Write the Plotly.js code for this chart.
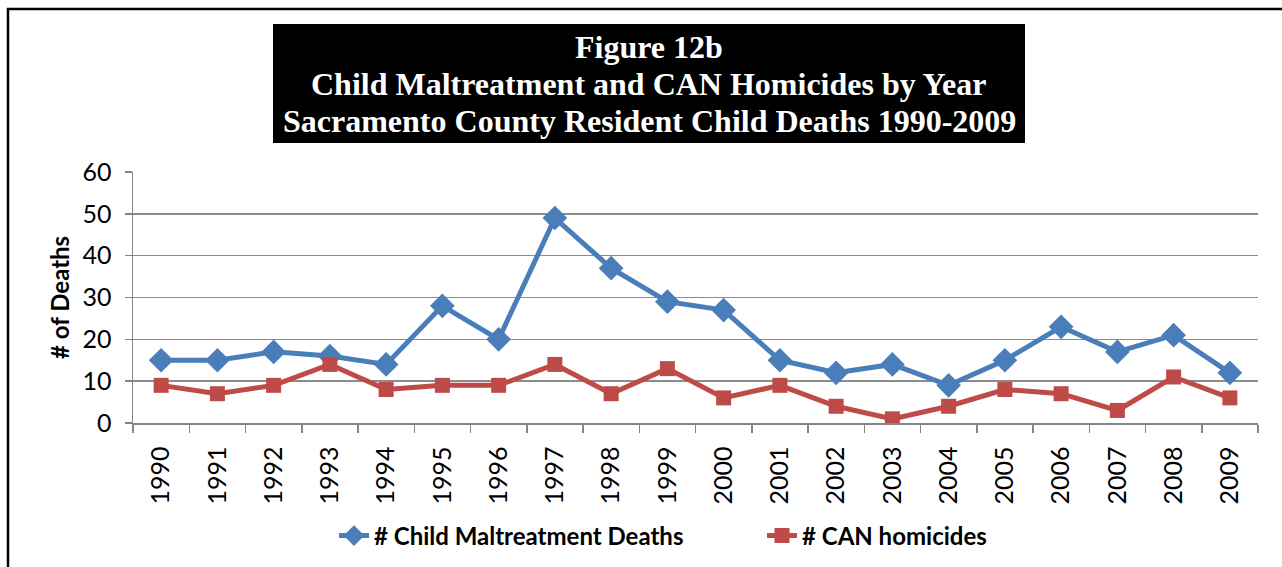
<!DOCTYPE html>
<html>
<head>
<meta charset="utf-8">
<script src="https://cdn.plot.ly/plotly-3.0.1.min.js"></script>
<style>html,body{margin:0;padding:0;background:#fff;}#chart{width:1282px;height:567px;}</style>
</head>
<body>
<div id="chart"></div>
<script>
const years = ['1990','1991','1992','1993','1994','1995','1996','1997','1998','1999','2000','2001','2002','2003','2004','2005','2006','2007','2008','2009'];
const maltreatmentDeaths = [15,15,17,16,14,28,20,49,37,29,27,15,12,14,9,15,23,17,21,12];
const canHomicides = [9,7,9,14,8,9,9,14,7,13,6,9,4,1,4,8,7,3,11,6];
const yTicks = [0,10,20,30,40,50,60];
const titleLines = ['Figure 12b','Child Maltreatment and CAN Homicides by Year','Sacramento County Resident Child Deaths 1990-2009'];
const seriesNames = ['# Child Maltreatment Deaths','# CAN homicides'];

const L = 133, T = 172, W = 1125, H = 251;
const px = v => (v - L) / W;
const py = v => (T + H - v) / H;
const SANS = 'Lato, Noto Sans, sans-serif';

const traces = [
  {x: years, y: maltreatmentDeaths, name: seriesNames[0], type: 'scatter', mode: 'lines+markers',
   line: {color: '#4A7EBB', width: 5}, marker: {symbol: 'diamond', size: 19, color: '#4A7EBB'}},
  {x: years, y: canHomicides, name: seriesNames[1], type: 'scatter', mode: 'lines+markers',
   line: {color: '#BE4B48', width: 5}, marker: {symbol: 'square', size: 15, color: '#BE4B48'}}
];

const titleY = [47, 84, 121];
const annotations = titleLines.map((t, i) => ({
  text: '<b>' + t + '</b>', xref: 'paper', yref: 'paper', x: px(649), y: py(titleY[i]),
  xanchor: 'center', yanchor: 'middle', showarrow: false,
  font: {family: 'Liberation Serif, Times New Roman, serif', size: 32, color: '#ffffff'}
}));
annotations.push({
  text: '<b># of Deaths</b>', xref: 'paper', yref: 'paper', x: px(59), y: py(298),
  xanchor: 'center', yanchor: 'middle', showarrow: false, textangle: -90,
  font: {family: SANS, size: 24, color: '#000'}
});

const layout = {
  width: 1282, height: 567,
  margin: {l: L, r: 1282 - L - W, t: T, b: 567 - T - H, autoexpand: false},
  paper_bgcolor: '#ffffff', plot_bgcolor: '#ffffff',
  showlegend: true,
  legend: {orientation: 'h', x: px(334), xanchor: 'left', y: py(536), yanchor: 'middle',
    font: {family: SANS, size: 24, color: '#000', weight: 'bold'},
    entrywidth: 383, entrywidthmode: 'pixels', tracegroupgap: 0},
  xaxis: {type: 'category', range: [-0.5, 19.5], tickson: 'boundaries', ticks: 'outside', ticklen: 8, tickwidth: 1.5,
    tickcolor: '#868686', showline: true, linecolor: '#868686', linewidth: 1.5, showgrid: false,
    tickangle: -90, tickfont: {family: SANS, size: 25, color: '#000'}, ticklabelstandoff: 12,
    zeroline: false, fixedrange: true, automargin: false},
  yaxis: {range: [0, 60], tickvals: yTicks, ticks: 'outside', ticklen: 7, tickwidth: 1.5,
    tickcolor: '#868686', showline: true, linecolor: '#868686', linewidth: 1.5,
    gridcolor: '#8c8c8c', gridwidth: 1.5, zeroline: false,
    tickfont: {family: SANS, size: 25, color: '#000'}, ticklabelstandoff: 8, fixedrange: true, automargin: false},
  shapes: [
    {type: 'rect', xref: 'paper', yref: 'paper', x0: px(8), x1: px(1400), y0: py(700), y1: py(9),
     line: {color: '#000', width: 2.5}, fillcolor: 'rgba(0,0,0,0)', layer: 'below'},
    {type: 'rect', xref: 'paper', yref: 'paper', x0: px(273), x1: px(1025), y0: py(143), y1: py(24),
     line: {width: 0}, fillcolor: '#000', layer: 'above'}
  ],
  annotations: annotations
};

Plotly.newPlot('chart', traces, layout, {displayModeBar: false, staticPlot: true});
</script>
</body>
</html>
